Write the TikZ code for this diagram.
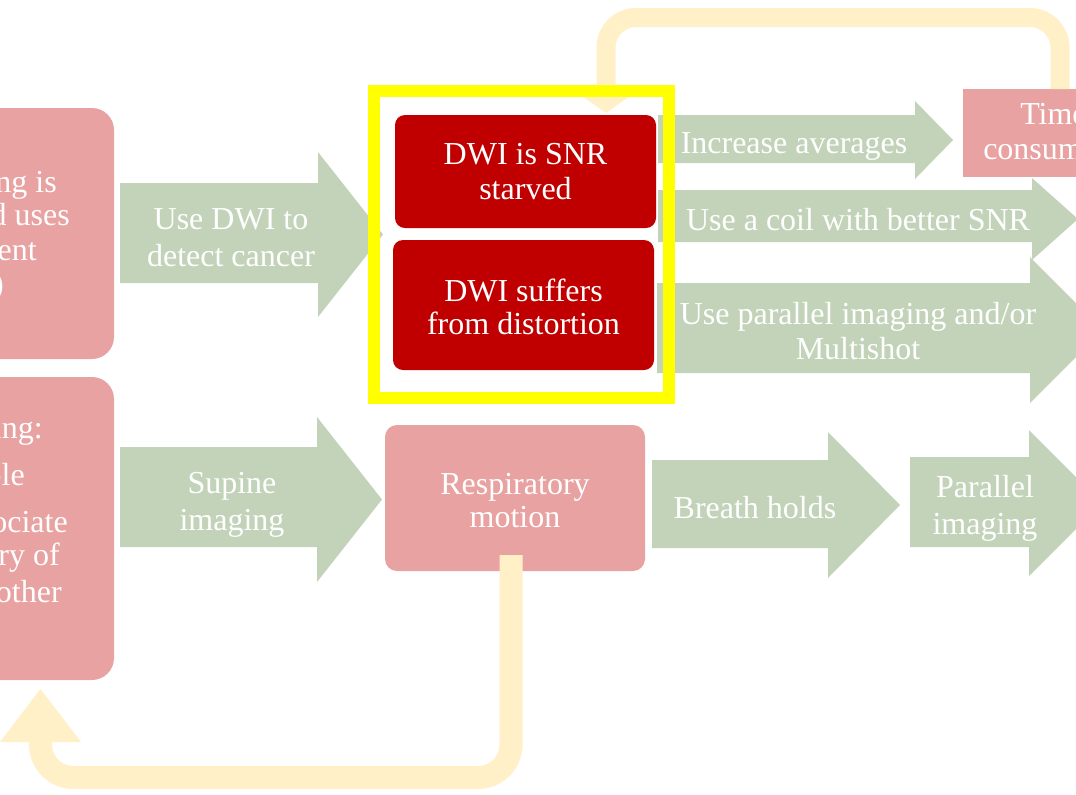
\documentclass[tikz,border=0pt]{standalone}
\usepackage{fontspec}
\setmainfont{Liberation Serif}
\definecolor{gfill}{HTML}{C3D3B9}
\definecolor{pinkf}{HTML}{E8A2A2}
\definecolor{darkred}{HTML}{C00000}
\definecolor{loopc}{HTML}{FFF0C8}
\definecolor{framec}{HTML}{FFFF00}
% block arrow: body left, body top, body bottom, head x, head top, head bottom, tip x
\newcommand{\blockarrow}[7]{%
  \fill[gfill] (#1,#2) -- (#4,#2) -- (#4,#5) -- (#7,{(#5+#6)/2}) -- (#4,#6) -- (#4,#3) -- (#1,#3) -- cycle;}
\begin{document}
\begin{tikzpicture}[x=0.75pt,y=-0.75pt,
  lbl/.style={text=white, align=center, inner sep=0pt, font=\fontsize{24}{26.25}\selectfont},
  bs37/.style={font=\fontsize{24}{27.75}\selectfont},
  frag/.style={text=white, inner sep=0pt, anchor=base east, font=\fontsize{24}{26.25}\selectfont},
  pinkbox/.style={fill=pinkf, draw=none, inner sep=0pt, outer sep=0pt},
  redbox/.style={fill=darkred, draw=none, inner sep=0pt, outer sep=0pt, rounded corners=7.5pt, text=white, align=center},
  loopline/.style={draw=loopc},
]
\useasboundingbox (0,0) rectangle (1076,794);
\clip (0,0) rectangle (1076,794);
\fill[white] (0,0) rectangle (1076,794);

% left boxes (cut by the picture edge)
\node[pinkbox, rounded corners=16.5pt, minimum width=108pt, minimum height=188.25pt] (L1) at (42,233.5) {};
\node[pinkbox, rounded corners=16.5pt, minimum width=108pt, minimum height=227.25pt] (L2) at (42,528.5) {};
\node[frag] (l1a) at (57,192) {ng is};
\node[frag] (l1b) at (70,225) {d uses};
\node[frag] (l1c) at (37,260) {ent};
\node[frag] (l1d) at (4,294) {)};
\node[frag] (l2a) at (43,438) {ing:};
\node[frag] (l2b) at (25,485) {ple};
\node[frag] (l2c) at (68,532) {ociate};
\node[frag] (l2d) at (60,565) {ry of};
\node[frag] (l2e) at (62,602) {other};

% block arrows
\blockarrow{120}{183}{283}{318}{152}{317}{383}
\blockarrow{120}{447}{547}{317}{417}{582}{382}
\blockarrow{658}{115}{163}{915}{101}{179}{953}
\blockarrow{658}{190}{242}{1032}{178}{260}{1078}
\blockarrow{657}{283}{373}{1030}{257}{403}{1103}
\blockarrow{652}{460}{548}{828}{432}{578}{900}
\blockarrow{910}{457}{547}{1029}{430}{576}{1102}

\node[lbl, bs37] (a1) at (231,237.5) {Use DWI to\\detect cancer};
\node[lbl, bs37] (a2) at (232,504.5) {Supine\\imaging};
\node[lbl] (a3) at (794,146) {Increase averages};
\node[lbl] (a4) at (858,220) {Use a coil with better SNR};
\node[lbl] (a5) at (858,331.5) {Use parallel imaging and/or\\Multishot};
\node[lbl] (a6) at (755,508) {Breath holds};
\node[lbl, bs37] (a7) at (985,508) {Parallel\\imaging};

% time consuming box (cut by the edge)
\node[pinkbox, minimum width=110.25pt, minimum height=66pt] (time) at (1036.5,133) {};
\node[text=white, inner sep=0pt, anchor=base west, font=\fontsize{24}{26.25}\selectfont] (t1) at (1020,124) {Time};
\node[text=white, inner sep=0pt, anchor=base west, font=\fontsize{24}{26.25}\selectfont] (t2) at (983,159) {consum};

% respiratory motion
\node[pinkbox, rounded corners=9pt, minimum width=195pt, minimum height=109.5pt] (resp) at (515,498) {};
\node[lbl, font=\fontsize{24}{24.75}\selectfont] (respt) at (515,500.5) {Respiratory\\motion};

% dark red boxes
\node[redbox, minimum width=195.75pt, minimum height=84.75pt, font=\fontsize{24}{26.25}\selectfont] (d1) at (525.5,171.5) {DWI is SNR\\starved};
\node[redbox, minimum width=195.75pt, minimum height=97.5pt] (d2) at (523.5,305) {};
\node[lbl, font=\fontsize{24}{24.75}\selectfont] (d2t) at (523.5,307) {DWI suffers\\from distortion};

% loop arrows
\coordinate (ts) at ([xshift=17.625pt]time.north);
\coordinate (tt) at (606,113);
\draw[loopline, line width=14.25pt, rounded corners=22.5pt] (ts) -- (1060,17.5) -- (606,17.5) -- (606,90);
\fill[loopc] (571,88) -- (641,88) -- (tt) -- cycle;

\coordinate (rs) at (511,555);
\coordinate (lt) at (40.5,689);
\draw[loopline, line width=17.25pt, rounded corners=24.75pt] (rs) -- (511,777.5) -- (40.5,777.5) -- (40.5,740);
\fill[loopc] (0,742) -- (81,742) -- (lt) -- cycle;

% yellow frame
\node[draw=framec, line width=9pt, inner sep=0pt, outer sep=0pt, minimum width=221.625pt, minimum height=229.875pt] (frame) at (521.25,244.25) {};
\end{tikzpicture}
\end{document}
